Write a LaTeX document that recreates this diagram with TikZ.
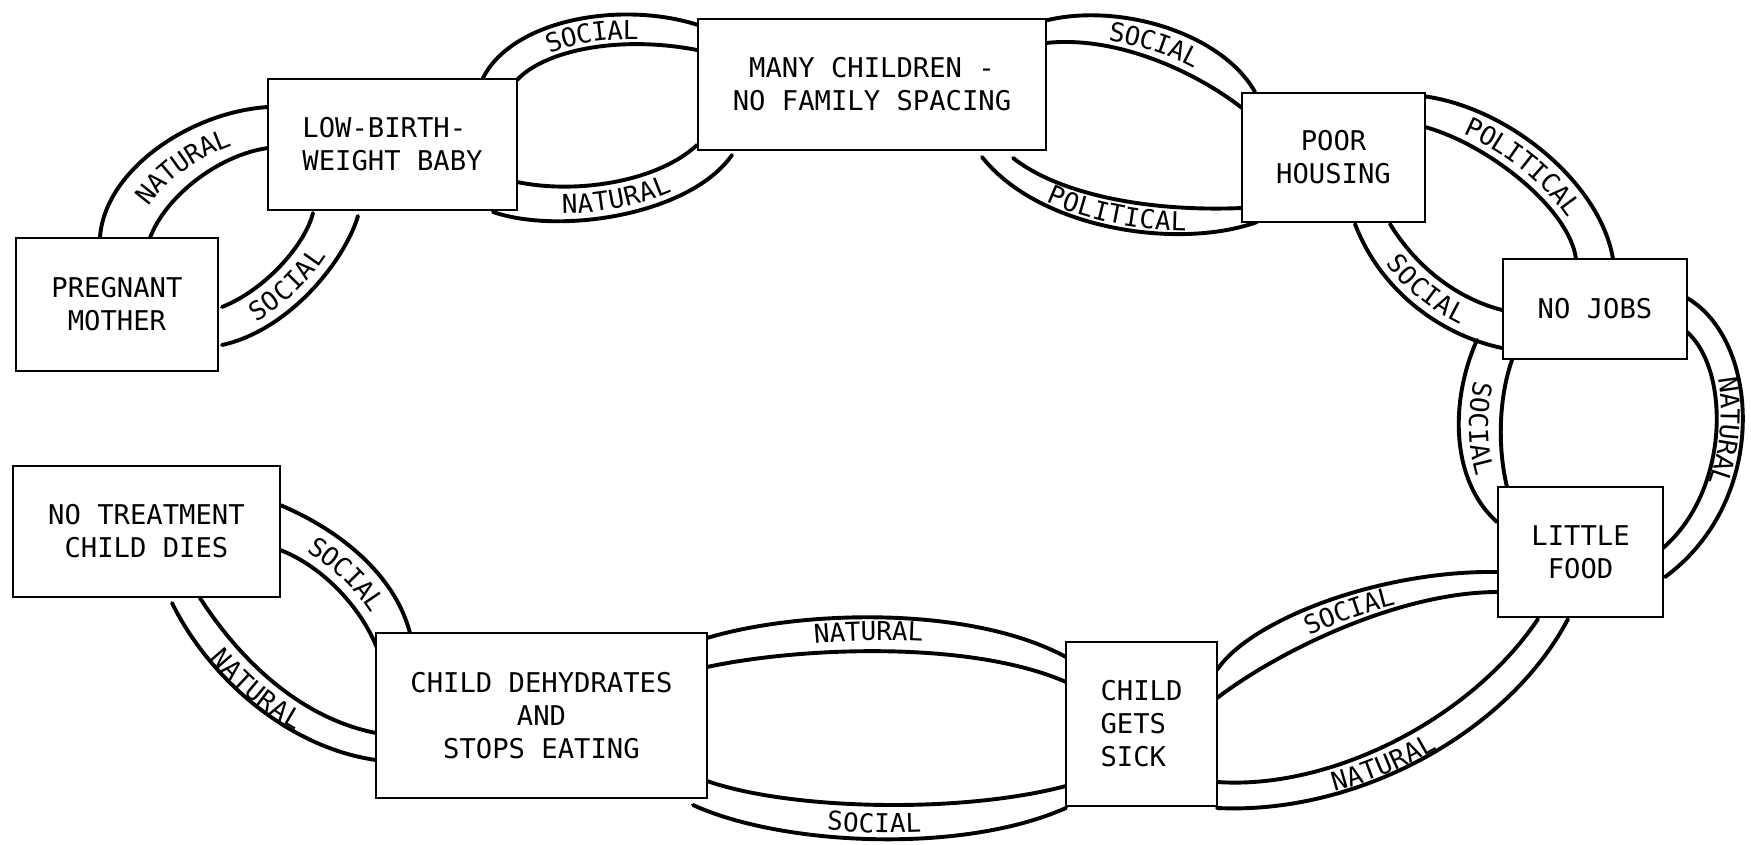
\documentclass[tikz,border=0pt]{standalone}
\usepackage{fontspec}
\newfontfamily\labfont{DejaVu Sans Mono}
\usetikzlibrary{decorations.text}
\newcommand\boxfont{\labfont\fontsize{27.2}{33}\selectfont}
\newcommand\bandfont{\labfont\fontsize{26}{30}\selectfont}
\tikzset{
  box/.style={draw, line width=2.6pt, fill=white, font=\boxfont, inner sep=0pt},
  band/.style={line width=3.9pt, line cap=round},
  lbl/.style={decorate, decoration={text along path, text align=center, raise=-9.5pt, text={|\bandfont|#1}}}
}
\begin{document}
\begin{tikzpicture}[x=1pt, y=-1pt]
\useasboundingbox (0,0) rectangle (1751,845);
\fill[white] (0,0) rectangle (1751,845);

% ---- bands ----
% PM - LB
\draw[band] (100,237) .. controls (105,170) and (190,112) .. (268,107);
\draw[band] (150,238) .. controls (165,197) and (218,155) .. (268,148);
\path[lbl=NATURAL] (125,237) .. controls (135,184) and (204,134) .. (268,128);
\draw[band] (222,307) .. controls (265,290) and (305,245) .. (313,213);
\draw[band] (222,345) .. controls (290,330) and (345,260) .. (358,216);
\path[lbl=SOCIAL] (222,326) .. controls (278,310) and (322,255) .. (332,222);
% LB - MC
\draw[band] (482,80) .. controls (510,20) and (620,0) .. (698,25);
\draw[band] (517,80) .. controls (545,50) and (620,35) .. (697,50);
\path[lbl=SOCIAL] (500,80) .. controls (528,35) and (620,18) .. (697,38);
\draw[band] (517,182) .. controls (580,195) and (660,180) .. (697,145);
\draw[band] (493,212) .. controls (560,235) and (690,215) .. (732,155);
\path[lbl=NATURAL] (505,197) .. controls (570,215) and (675,198) .. (715,150);
% MC - PH
\draw[band] (1037,23) .. controls (1110,0) and (1220,30) .. (1255,92);
\draw[band] (1046,43) .. controls (1120,35) and (1200,75) .. (1242,108);
\path[lbl=SOCIAL] (1046,33) .. controls (1115,18) and (1210,52) .. (1248,100);
\draw[band] (1013,158) .. controls (1060,195) and (1150,212) .. (1242,208);
\draw[band] (982,157) .. controls (1040,230) and (1180,250) .. (1257,222);
\path[lbl=POLITICAL] (997,157) .. controls (1050,212) and (1165,232) .. (1250,216);
% PH - NJ
\draw[band] (1411,95) .. controls (1500,100) and (1600,180) .. (1613,259);
\draw[band] (1425,127) .. controls (1490,145) and (1570,210) .. (1576,259);
\path[lbl=POLITICAL] (1418,111) .. controls (1495,122) and (1585,195) .. (1595,259);
\draw[band] (1355,224) .. controls (1380,290) and (1440,335) .. (1502,348);
\draw[band] (1390,224) .. controls (1415,265) and (1455,298) .. (1502,310);
\path[lbl=SOCIAL] (1372,224) .. controls (1398,278) and (1448,317) .. (1502,329);
% NJ - LF
\draw[band] (1477,340) .. controls (1450,400) and (1450,480) .. (1497,522);
\draw[band] (1512,360) .. controls (1498,400) and (1498,450) .. (1507,487);
\path[lbl=SOCIAL] (1494,350) .. controls (1472,400) and (1473,465) .. (1500,505);
\draw[band] (1687,298) .. controls (1760,340) and (1770,500) .. (1665,577);
\draw[band] (1687,332) .. controls (1730,370) and (1730,490) .. (1663,548);
\path[lbl=NATURAL] (1687,305) .. controls (1745,345) and (1750,485) .. (1670,555);
% LF - CS
\draw[band] (1217,670) .. controls (1250,620) and (1380,570) .. (1498,572);
\draw[band] (1217,698) .. controls (1280,650) and (1400,592) .. (1498,592);
\path[lbl=SOCIAL] (1217,684) .. controls (1265,635) and (1390,581) .. (1498,582);
\draw[band] (1217,782) .. controls (1330,790) and (1470,720) .. (1538,619);
\draw[band] (1217,808) .. controls (1360,815) and (1510,730) .. (1568,619);
\path[lbl=NATURAL] (1217,795) .. controls (1340,802) and (1465,738) .. (1520,665);
% CS - CD
\draw[band] (707,638) .. controls (800,610) and (970,605) .. (1066,657);
\draw[band] (707,667) .. controls (800,647) and (970,640) .. (1066,682);
\path[lbl=NATURAL] (707,652) .. controls (795,628) and (945,621) .. (1030,650);
\draw[band] (707,781) .. controls (790,810) and (960,814) .. (1066,786);
\draw[band] (693,805) .. controls (780,845) and (960,855) .. (1066,808);
\path[lbl=SOCIAL] (700,793) .. controls (785,828) and (950,835) .. (1050,802);
% CD - NT
\draw[band] (280,505) .. controls (340,530) and (395,575) .. (410,633);
\draw[band] (280,550) .. controls (320,565) and (360,605) .. (377,648);
\path[lbl=SOCIAL] (280,528) .. controls (330,548) and (378,590) .. (393,640);
\draw[band] (172,603) .. controls (210,680) and (290,748) .. (376,760);
\draw[band] (200,598) .. controls (240,660) and (300,718) .. (376,733);
\path[lbl=NATURAL] (180,598) .. controls (218,668) and (285,730) .. (362,745);

% ---- boxes ----
\node[box, minimum width=202, minimum height=133, align=center] (pm) at (117,304.5) {PREGNANT\\MOTHER};
\node[box, minimum width=249, minimum height=131, align=left] (lb) at (392.5,144.5) {LOW-BIRTH-\\WEIGHT BABY};
\node[box, minimum width=348, minimum height=131, align=center] (mc) at (872,84.5) {MANY CHILDREN -\\NO FAMILY SPACING};
\node[box, minimum width=183, minimum height=129, align=center] (ph) at (1333.5,157.5) {POOR\\HOUSING};
\node[box, minimum width=184, minimum height=100, align=center] (nj) at (1595,309) {NO JOBS};
\node[box, minimum width=165, minimum height=130, align=center] (lf) at (1580.5,552) {LITTLE\\FOOD};
\node[box, minimum width=151, minimum height=164, align=left] (cs) at (1141.5,724) {CHILD\\GETS\\SICK};
\node[box, minimum width=331, minimum height=165, align=center] (cd) at (541.5,715.5) {CHILD DEHYDRATES\\AND\\STOPS EATING};
\node[box, minimum width=267, minimum height=131, align=center] (nt) at (146.5,531.5) {NO TREATMENT\\CHILD DIES};
\end{tikzpicture}
\end{document}
